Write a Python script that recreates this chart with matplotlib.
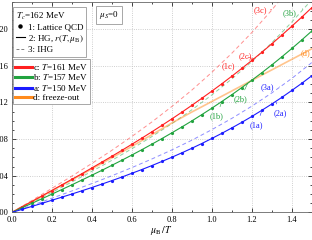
import numpy as np
import matplotlib
matplotlib.use("Agg")
import matplotlib.pyplot as plt
from matplotlib.lines import Line2D

plt.rcParams['font.family'] = ['Liberation Serif', 'DejaVu Serif']
plt.rcParams['mathtext.fontset'] = 'stix'
plt.rcParams['font.size'] = 6

# lattice points and HG curves, mu_B/T in steps of 0.05
x_hg = np.arange(0, 31) * 0.05
hg_c = [0.0, 0.0060, 0.0119, 0.0179, 0.0239, 0.0300, 0.0361, 0.0422, 0.0485, 0.0548,
        0.0612, 0.0677, 0.0743, 0.0810, 0.0879, 0.0949, 0.1020, 0.1093, 0.1168, 0.1245,
        0.1323, 0.1403, 0.1486, 0.1571, 0.1658, 0.1747, 0.1839, 0.1934, 0.2031, 0.2131, 0.2234]
hg_b = [0.0, 0.0050, 0.0099, 0.0149, 0.0199, 0.0250, 0.0301, 0.0353, 0.0406, 0.0459,
        0.0514, 0.0569, 0.0626, 0.0684, 0.0744, 0.0805, 0.0868, 0.0932, 0.0998, 0.1067,
        0.1137, 0.1210, 0.1284, 0.1362, 0.1442, 0.1524, 0.1609, 0.1697, 0.1788, 0.1882, 0.1979]
hg_a = [0.0, 0.0033, 0.0066, 0.0099, 0.0133, 0.0167, 0.0201, 0.0236, 0.0272, 0.0309,
        0.0347, 0.0386, 0.0427, 0.0468, 0.0511, 0.0556, 0.0602, 0.0650, 0.0700, 0.0752,
        0.0807, 0.0863, 0.0922, 0.0983, 0.1047, 0.1114, 0.1183, 0.1255, 0.1331, 0.1409, 0.1491]

# IHG curves and freeze-out line, steps of 0.1
x_ihg = np.arange(0, 16) * 0.1
ihg_c = [0.0, 0.0130, 0.0262, 0.0396, 0.0534, 0.0677, 0.0828, 0.0986, 0.1155, 0.1334,
         0.1528, 0.1736, 0.1962, 0.2208, 0.2476, 0.2768]
ihg_b = [0.0, 0.0109, 0.0219, 0.0332, 0.0448, 0.0568, 0.0694, 0.0827, 0.0968, 0.1119,
         0.1281, 0.1456, 0.1645, 0.1851, 0.2076, 0.2321]
ihg_a = [0.0, 0.0077, 0.0155, 0.0234, 0.0315, 0.0400, 0.0489, 0.0583, 0.0682, 0.0788,
         0.0903, 0.1026, 0.1159, 0.1304, 0.1462, 0.1635]
fo_d = [0.0, 0.0118, 0.0236, 0.0354, 0.0474, 0.0596, 0.0720, 0.0848, 0.0975, 0.1095,
        0.1210, 0.1325, 0.1440, 0.1555, 0.1670, 0.1785]

red, green, blue, orange = '#ff2020', '#22a33f', '#1c1cff', '#ff8a1c'

fig = plt.figure(figsize=(3.12, 2.40), dpi=100)
ax = fig.add_axes([0.0375, 0.1146, 0.962, 0.879])

ax.plot(x_ihg, ihg_c, '--', color=red, alpha=0.5, lw=0.7, dashes=(4, 3))
ax.plot(x_ihg, ihg_b, '--', color=green, alpha=0.5, lw=0.7, dashes=(4, 3))
ax.plot(x_ihg, ihg_a, '--', color=blue, alpha=0.5, lw=0.7, dashes=(4, 3))
ax.plot(x_ihg, fo_d, '-', color=orange, alpha=0.5, lw=1.2)
for yy, cc in [(hg_c, red), (hg_b, green), (hg_a, blue)]:
    ax.plot(x_hg, yy, '-', color=cc, lw=0.8)
    ax.plot(x_hg, yy, 'o', color=cc, ms=2.3, mew=0)

ax.set_xlim(0, 1.5)
ax.set_ylim(0, 0.23)
ax.set_xticks(np.arange(0, 1.41, 0.2))
ax.set_xticks(np.arange(0, 1.51, 0.1), minor=True)
ax.set_yticks(np.arange(0, 0.21, 0.04))
ax.set_yticks(np.arange(0, 0.231, 0.01), minor=True)
ax.xaxis.set_major_formatter(plt.FormatStrFormatter('%.1f'))
ax.yaxis.set_major_formatter(plt.FormatStrFormatter('%.2f'))
ax.tick_params(which='both', direction='in', top=True, right=True, labelsize=6, width=0.5, pad=2.5)
ax.tick_params(which='major', length=3)
ax.tick_params(which='minor', length=1.5)
ax.grid(True, which='major', ls=':', color='0.75', lw=0.6)
for s in ax.spines.values():
    s.set_linewidth(0.6)
    s.set_color('0.4')
ax.set_xlabel(r'$\mu_{\rm B}\,/T$', fontsize=7, labelpad=0)

# labels with leader lines
notes = [('(3c)', red, 1.245, 0.2208, 1.30, 0.221),
         ('(3b)', green, 1.39, 0.217, 1.455, 0.222),
         ('(2c)', red, 1.167, 0.170, 1.21, 0.1676),
         ('(1c)', red, 1.085, 0.160, 1.10, 0.149),
         ('(d)', orange, 1.467, 0.1736, 1.44, 0.166),
         ('(3a)', blue, 1.278, 0.1365, 1.34, 0.137),
         ('(2b)', green, 1.142, 0.1234, 1.18, 0.141),
         ('(1b)', green, 1.025, 0.105, 1.05, 0.121),
         ('(2a)', blue, 1.342, 0.108, 1.32, 0.121),
         ('(1a)', blue, 1.225, 0.0954, 1.25, 0.111)]
for t, cc, tx, ty, px, py in notes:
    ax.annotate(t, xy=(px, py), xytext=(tx, ty), color=cc, fontsize=6,
                ha='center', va='center',
                arrowprops=dict(arrowstyle='-', color=cc, lw=0.4, shrinkA=2, shrinkB=0))

h1 = [Line2D([], [], marker='o', ls='none', color='k', ms=2.2),
      Line2D([], [], ls='-', color='k', lw=0.8),
      Line2D([], [], ls='--', color='0.5', lw=0.7, dashes=(3, 2))]
leg1 = ax.legend(h1, ['1: Lattice QCD', r'2: HG, $r(T,\mu_{\rm B})$', '3: IHG'],
                 title=r'$T_c$=162 MeV', title_fontsize=6.5, fontsize=6.5,
                 loc='upper left', bbox_to_anchor=(0.0033, 0.973), borderaxespad=0,
                 fancybox=False, edgecolor='0.6', framealpha=1, handlelength=1.0,
                 handletextpad=0.3, labelspacing=0.15, borderpad=0.35, alignment='left')
leg1.get_frame().set_linewidth(0.6)
ax.add_artist(leg1)

h2 = [Line2D([], [], color=cc, lw=2.2) for cc in (red, green, blue, orange)]
leg2 = ax.legend(h2, [r'c: $T$=161 MeV', r'b: $T$=157 MeV', r'a: $T$=150 MeV', 'd: freeze-out'],
                 fontsize=6.5, loc='upper left', bbox_to_anchor=(0.0033, 0.726), borderaxespad=0,
                 fancybox=False, edgecolor='0.6', framealpha=1, handlelength=1.8,
                 handletextpad=0.1, labelspacing=0.05, borderpad=0.3)
leg2.get_frame().set_linewidth(0.6)

ax.text(0.324, 0.936, r'$\mu_S$=0', transform=ax.transAxes, fontsize=6.5,
        ha='center', va='center',
        bbox=dict(boxstyle='square,pad=0.35', fc='white', ec='0.6', lw=0.6))

fig.savefig('out.png', dpi=100)
